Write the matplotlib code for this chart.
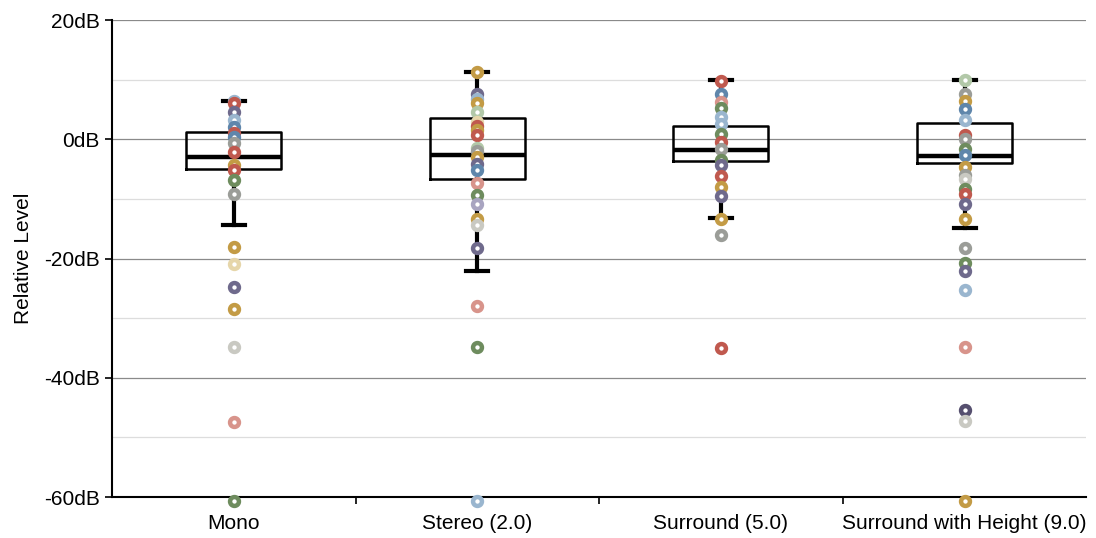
import matplotlib
matplotlib.use("Agg")
from matplotlib import pyplot as plt
from matplotlib.ticker import FixedLocator, FuncFormatter

plt.rcParams['font.family'] = ['Liberation Sans', 'DejaVu Sans']

CATEGORIES = ['Mono', 'Stereo (2.0)', 'Surround (5.0)', 'Surround with Height (9.0)']

# box statistics (dB)
MEDIANS = [-3.0, -2.7, -1.8, -2.8]
Q1 = [-5.0, -6.7, -3.7, -4.0]
Q3 = [1.2, 3.5, 2.3, 2.8]
WHISKER_LOW = [-14.4, -22.1, -13.2, -14.8]
WHISKER_HIGH = [6.4, 11.2, 9.9, 9.9]

# individual measurements (value, colour key)
MONO_POINTS = [
    (6.5, 'lblue'), (6.0, 'red'), (4.6, 'purple'), (3.2, 'lblue'), (2.1, 'blue'),
    (1.1, 'red'), (0.4, 'blue'), (-0.7, 'grey'), (-2.1, 'red'), (-4.4, 'gold'),
    (-5.2, 'red'), (-6.8, 'green'), (-9.1, 'grey'), (-18.1, 'gold'), (-20.9, 'tan'),
    (-24.7, 'purple'), (-28.5, 'gold'), (-34.9, 'lgrey'), (-47.4, 'pink'), (-60.6, 'green'),
]
STEREO_POINTS = [
    (11.3, 'gold'), (7.6, 'purple'), (6.8, 'lblue'), (6.1, 'gold'), (4.6, 'lgreen'),
    (2.9, 'tan'), (2.2, 'red'), (1.5, 'gold'), (0.7, 'red'), (-1.4, 'lgreen'),
    (-2.0, 'grey'), (-3.0, 'gold'), (-4.2, 'purple'), (-5.2, 'blue'), (-7.3, 'pink'),
    (-9.4, 'green'), (-10.8, 'lpurple'), (-13.3, 'gold'), (-14.4, 'lgrey'), (-18.3, 'purple'),
    (-27.9, 'pink'), (-34.9, 'green'), (-60.6, 'lblue'),
]
SURROUND_POINTS = [
    (9.8, 'red'), (7.6, 'blue'), (6.3, 'pink'), (5.2, 'green'), (3.7, 'lblue'),
    (2.6, 'lblue'), (0.9, 'green'), (-0.4, 'red'), (-1.6, 'grey'), (-3.5, 'green'),
    (-4.3, 'purple'), (-6.1, 'red'), (-8.0, 'gold'), (-9.5, 'purple'), (-13.3, 'gold'),
    (-16.0, 'grey'), (-35.0, 'red'),
]
HEIGHT_POINTS = [
    (10.0, 'lgreen'), (7.6, 'grey'), (6.5, 'gold'), (5.1, 'blue'), (3.3, 'lblue'),
    (0.7, 'red'), (0.0, 'grey'), (-1.7, 'green'), (-2.7, 'blue'), (-4.6, 'gold'),
    (-6.0, 'grey'), (-6.6, 'lgrey'), (-8.3, 'green'), (-9.1, 'red'), (-10.8, 'purple'),
    (-13.3, 'gold'), (-18.3, 'grey'), (-20.8, 'green'), (-22.1, 'purple'), (-25.3, 'lblue'),
    (-34.9, 'pink'), (-45.4, 'dpurple'), (-47.3, 'lgrey'), (-60.6, 'gold'),
]
ALL_POINTS = [MONO_POINTS, STEREO_POINTS, SURROUND_POINTS, HEIGHT_POINTS]

PALETTE = {
    'red': '#c0594e', 'blue': '#5f86ab', 'green': '#6e8c5e', 'grey': '#9b9d98',
    'gold': '#c39b45', 'tan': '#e6d6aa', 'purple': '#6f6a8c', 'lblue': '#9ab6cf',
    'pink': '#d8948b', 'lgreen': '#b2c8a8', 'lgrey': '#c9c9c2', 'lpurple': '#a8a4c0',
    'dpurple': '#56506f',
}


def main():
    fig = plt.figure(figsize=(10.96, 5.38), dpi=100)
    ax = fig.add_axes([0.1022, 0.0762, 0.889, 0.8866])

    stats = [
        dict(med=MEDIANS[i], q1=Q1[i], q3=Q3[i], whislo=WHISKER_LOW[i], whishi=WHISKER_HIGH[i], fliers=[])
        for i in range(len(CATEGORIES))
    ]
    ax.bxp(stats, positions=range(len(CATEGORIES)), widths=0.39, showfliers=False,
           boxprops=dict(color='black', linewidth=1.8),
           medianprops=dict(color='black', linewidth=3.2),
           whiskerprops=dict(color='black', linewidth=3),
           capprops=dict(color='black', linewidth=3), capwidths=0.09,
           zorder=3)

    for i, points in enumerate(ALL_POINTS):
        for value, key in points:
            ax.plot(i, value, 'o', markersize=6.4, markerfacecolor='white',
                    markeredgecolor=PALETTE[key], markeredgewidth=3.2,
                    zorder=4, clip_on=False)

    ax.set_xlim(-0.5, len(CATEGORIES) - 0.5)
    ax.set_ylim(-60, 20)

    ax.yaxis.set_major_locator(FixedLocator([-60, -40, -20, 0, 20]))
    ax.yaxis.set_minor_locator(FixedLocator([-50, -30, -10, 10]))
    ax.yaxis.set_major_formatter(FuncFormatter(lambda v, _: f"{int(v)}dB"))
    ax.grid(axis='y', which='major', color='#8a8a8a', linewidth=0.9)
    ax.grid(axis='y', which='minor', color='#dddddd', linewidth=0.9)
    ax.set_axisbelow(True)
    ax.tick_params(axis='y', which='major', direction='out', length=5, width=1.2, labelsize=15, pad=4)
    ax.tick_params(axis='y', which='minor', length=0)
    ax.set_ylabel('Relative Level', fontsize=15, labelpad=8)

    ax.set_xticks([0.5, 1.5, 2.5])
    ax.set_xticklabels([])
    ax.set_xticks(range(len(CATEGORIES)), minor=True)
    ax.set_xticklabels(CATEGORIES, minor=True, fontsize=15)
    ax.tick_params(axis='x', which='major', direction='out', length=5, width=1.2)
    ax.tick_params(axis='x', which='minor', length=0, pad=12)

    for side in ('top', 'right'):
        ax.spines[side].set_visible(False)
    for side in ('left', 'bottom'):
        ax.spines[side].set_linewidth(1.5)

    fig.savefig('out.png', dpi=100)
    plt.close(fig)


if __name__ == '__main__':
    main()
